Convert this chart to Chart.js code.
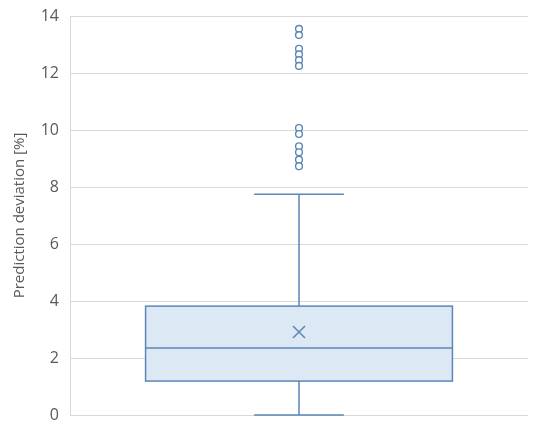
<!DOCTYPE html>
<html>
<head>
<meta charset="utf-8">
<script src="https://cdn.jsdelivr.net/npm/chart.js@4.4.1/dist/chart.umd.min.js"></script>
<style>
html,body{margin:0;padding:0;background:#fff;}
#wrap{width:550px;height:440px;position:relative;}
</style>
</head>
<body>
<div id="wrap"><canvas id="c" width="550" height="440"></canvas></div>
<script>
// ---- data ----
const yTicks = [0, 2, 4, 6, 8, 10, 12, 14];
const boxStats = { min: 0, q1: 1.19, median: 2.35, q3: 3.82, max: 7.75, mean: 2.91 };
const outliers = [13.55, 13.33, 12.85, 12.65, 12.45, 12.25, 10.07, 9.86, 9.43, 9.22, 8.96, 8.73];
const category = 0.5;

// ---- style ----
const lineColor = '#5b87b6';
const fillColor = '#dde8f5';
const boxHalfWidth = 0.335;
const capHalfWidth = 0.098;

const boxPlugin = {
  id: 'boxPlot',
  beforeDatasetsDraw(chart) {
    const ctx = chart.ctx;
    const xs = chart.scales.x, ys = chart.scales.y;
    const xl = xs.getPixelForValue(category - boxHalfWidth);
    const xr = xs.getPixelForValue(category + boxHalfWidth);
    const xc = xs.getPixelForValue(category);
    const cl = xs.getPixelForValue(category - capHalfWidth);
    const cr = xs.getPixelForValue(category + capHalfWidth);
    const yq1 = ys.getPixelForValue(boxStats.q1);
    const yq3 = ys.getPixelForValue(boxStats.q3);
    const ymed = ys.getPixelForValue(boxStats.median);
    const ymin = ys.getPixelForValue(boxStats.min);
    const ymax = ys.getPixelForValue(boxStats.max);
    ctx.save();
    ctx.strokeStyle = lineColor;
    ctx.lineWidth = 1.5;
    // whiskers
    ctx.beginPath();
    ctx.moveTo(xc, yq3); ctx.lineTo(xc, ymax);
    ctx.moveTo(cl, ymax); ctx.lineTo(cr, ymax);
    ctx.moveTo(xc, yq1); ctx.lineTo(xc, ymin);
    ctx.moveTo(cl, ymin); ctx.lineTo(cr, ymin);
    ctx.stroke();
    // box
    ctx.fillStyle = fillColor;
    ctx.fillRect(xl, yq3, xr - xl, yq1 - yq3);
    ctx.strokeRect(xl, yq3, xr - xl, yq1 - yq3);
    ctx.beginPath();
    ctx.moveTo(xl, ymed); ctx.lineTo(xr, ymed);
    ctx.stroke();
    ctx.restore();
  }
};

new Chart(document.getElementById('c'), {
  type: 'scatter',
  data: {
    datasets: [
      {
        label: 'Outliers',
        data: outliers.map(v => ({ x: category, y: v })),
        pointStyle: 'circle',
        pointRadius: 3.4,
        borderWidth: 1.4,
        borderColor: lineColor,
        backgroundColor: '#ffffff'
      },
      {
        label: 'Mean',
        data: [{ x: category, y: boxStats.mean }],
        pointStyle: 'crossRot',
        pointRadius: 8.5,
        borderWidth: 1.5,
        borderColor: lineColor
      }
    ]
  },
  plugins: [boxPlugin],
  options: {
    responsive: false,
    animation: false,
    layout: { padding: { top: 0, right: 22, bottom: 25, left: 0 } },
    plugins: { legend: { display: false }, tooltip: { enabled: false } },
    scales: {
      x: { type: 'linear', min: 0, max: 1, display: false },
      y: {
        min: 0, max: 14,
        afterBuildTicks(axis) { axis.ticks = yTicks.map(v => ({ value: v })); },
        afterFit(axis) { axis.width = 70; axis.paddingTop = 16; axis.paddingBottom = 0; },
        grid: { color: '#d9d9d9', lineWidth: 1, drawTicks: false },
        border: { color: '#d9d9d9', width: 1 },
        ticks: { color: '#595959', font: { family: 'Open Sans', size: 16 }, padding: 11 },
        title: { display: true, text: 'Prediction deviation [%]', color: '#595959', font: { family: 'Open Sans', size: 15 }, padding: { top: 11, bottom: 0 } }
      }
    }
  }
});
</script>
</body>
</html>
